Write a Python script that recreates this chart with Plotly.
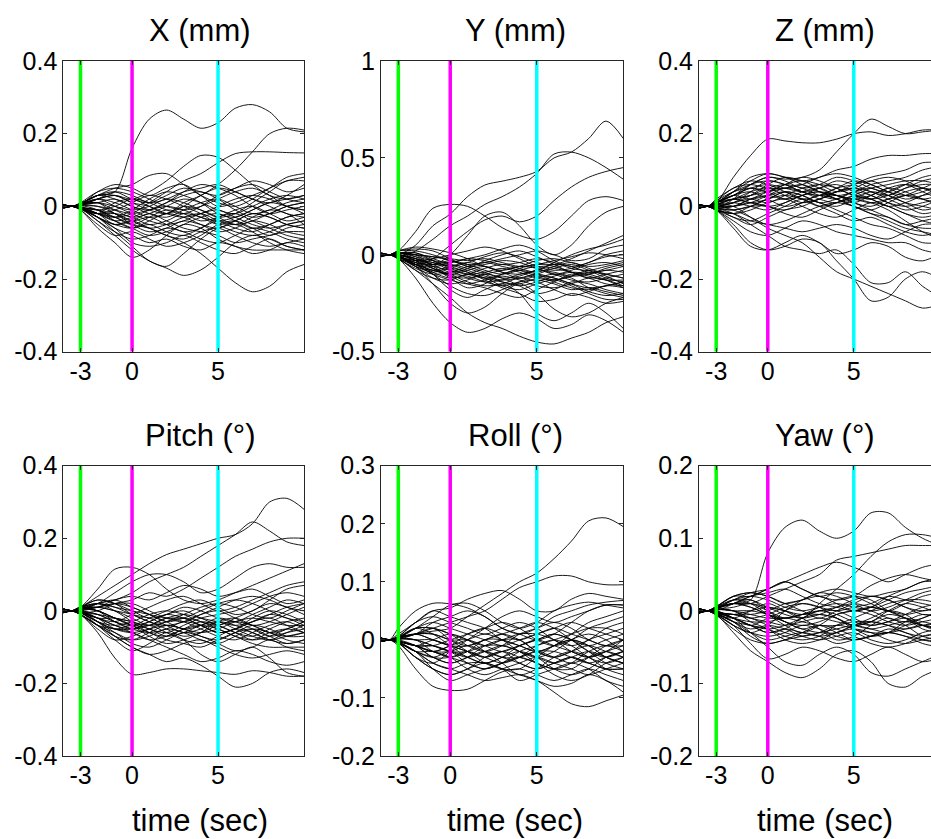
import plotly.graph_objects as go

W, H = 931, 839

# sample times (s) shared by every trial trace
T = [-4, -3.5, -3, -2, -1, 0, 1, 2, 3, 4, 5, 6, 7, 8, 9, 10]

# ---- X (mm) ----
X_MM = [
    [0.006, 0, 0.008, 0.03, 0.04, 0.16, 0.24, 0.265, 0.24, 0.215, 0.23, 0.27, 0.28, 0.26, 0.215, 0.205],
    [-0.005, 0, -0.006, -0.02, 0.01, 0.02, 0.0, -0.02, 0.01, 0.03, 0.06, 0.1, 0.15, 0.2, 0.215, 0.21],
    [0.004, 0, 0.005, 0.02, 0.03, 0.02, 0.04, 0.07, 0.11, 0.14, 0.135, 0.1, 0.06, 0.03, 0.02, 0.03],
    [-0.004, 0, -0.004, -0.01, -0.03, -0.02, 0.01, 0.04, 0.07, 0.09, 0.12, 0.145, 0.15, 0.15, 0.148, 0.147],
    [0.003, 0, 0.006, 0.03, 0.05, 0.06, 0.085, 0.09, 0.06, 0.03, 0.01, 0.0, 0.02, 0.05, 0.07, 0.08],
    [-0.003, 0, -0.005, -0.02, -0.03, -0.05, -0.06, -0.08, -0.1, -0.13, -0.17, -0.21, -0.235, -0.22, -0.18, -0.16],
    [0.002, 0, -0.006, -0.04, -0.08, -0.12, -0.15, -0.17, -0.19, -0.175, -0.14, -0.1, -0.08, -0.09, -0.11, -0.12],
    [-0.004, 0, -0.01, -0.06, -0.1, -0.14, -0.12, -0.08, -0.05, -0.06, -0.09, -0.11, -0.12, -0.12, -0.12, -0.12],
    [0.004, 0, -0.004, -0.03, -0.07, -0.11, -0.15, -0.165, -0.13, -0.09, -0.06, -0.05, -0.07, -0.1, -0.12, -0.13],
    [0.005, 0, 0.01, 0.04, 0.05, 0.04, 0.02, 0.0, -0.01, 0.0, 0.02, 0.04, 0.05, 0.03, 0.0, -0.01],
    [-0.005, 0, -0.008, -0.03, -0.05, -0.06, -0.04, -0.02, -0.03, -0.05, -0.07, -0.06, -0.04, -0.05, -0.07, -0.08],
    [0.003, 0, 0.004, 0.01, 0.02, 0.0, -0.02, -0.03, -0.01, 0.01, 0.02, 0.0, -0.02, -0.01, 0.01, 0.02],
    [-0.003, 0, -0.002, -0.02, -0.04, -0.03, -0.01, 0.01, 0.03, 0.04, 0.02, -0.01, -0.03, -0.02, 0.0, 0.01],
    [0.004, 0, 0.006, 0.02, 0.0, -0.02, -0.04, -0.05, -0.04, -0.02, -0.01, -0.03, -0.05, -0.06, -0.05, -0.04],
    [-0.004, 0, -0.006, -0.04, -0.07, -0.09, -0.08, -0.06, -0.07, -0.09, -0.1, -0.08, -0.06, -0.07, -0.09, -0.1],
    [0.002, 0, 0.008, 0.03, 0.04, 0.02, 0.01, 0.03, 0.05, 0.04, 0.03, 0.05, 0.07, 0.06, 0.04, 0.05],
    [-0.002, 0, -0.004, -0.01, -0.02, -0.04, -0.06, -0.05, -0.03, -0.02, -0.04, -0.06, -0.07, -0.05, -0.03, -0.02],
    [0.005, 0, 0.005, 0.01, -0.01, -0.03, -0.02, 0.0, 0.02, 0.01, -0.01, -0.02, 0.0, 0.02, 0.03, 0.02],
    [-0.005, 0, -0.01, -0.05, -0.08, -0.07, -0.09, -0.11, -0.1, -0.08, -0.05, -0.04, -0.06, -0.08, -0.06, -0.05],
    [0.003, 0, 0.004, 0.0, -0.02, -0.05, -0.07, -0.06, -0.04, -0.05, -0.06, -0.04, -0.02, -0.03, -0.05, -0.06],
    [-0.003, 0, 0.002, 0.02, 0.03, 0.01, -0.01, -0.02, 0.0, 0.03, 0.05, 0.04, 0.02, 0.01, 0.03, 0.06],
    [0.004, 0, -0.003, -0.02, -0.03, -0.01, 0.02, 0.04, 0.03, 0.01, -0.02, -0.03, -0.01, 0.01, 0.0, -0.02],
    [-0.004, 0, -0.005, -0.03, -0.06, -0.08, -0.1, -0.09, -0.11, -0.12, -0.1, -0.11, -0.13, -0.12, -0.1, -0.11],
    [0.002, 0, 0.003, 0.01, 0.0, -0.01, 0.0, 0.02, 0.01, -0.01, -0.03, -0.02, 0.01, 0.04, 0.07, 0.07],
    [-0.002, 0, -0.003, -0.01, -0.03, -0.05, -0.03, -0.01, -0.02, -0.04, -0.03, -0.01, 0.0, -0.02, -0.04, -0.03],
    [0.005, 0, 0.007, 0.03, 0.02, 0.0, -0.01, 0.01, 0.04, 0.06, 0.05, 0.03, 0.0, -0.02, -0.01, 0.0],
    [-0.005, 0, -0.007, -0.02, -0.01, 0.01, 0.03, 0.02, 0.0, -0.02, -0.05, -0.07, -0.08, -0.07, -0.05, -0.04],
    [0.003, 0, 0.002, -0.01, -0.04, -0.06, -0.05, -0.07, -0.08, -0.06, -0.04, -0.05, -0.03, -0.01, -0.02, -0.05],
    [-0.003, 0, 0.005, 0.04, 0.06, 0.05, 0.03, 0.05, 0.06, 0.03, 0.0, 0.01, 0.03, 0.05, 0.08, 0.09],
    [0.004, 0, -0.002, -0.02, -0.05, -0.04, -0.02, -0.04, -0.06, -0.07, -0.08, -0.1, -0.09, -0.08, -0.07, -0.07],
    [0.004, 0, 0.006, 0.01, -0.02, -0.04, -0.03, -0.05, -0.07, -0.06, -0.03, -0.02, -0.04, -0.06, -0.08, -0.09],
    [-0.004, 0, -0.002, -0.01, 0.0, 0.02, 0.01, -0.01, -0.02, 0.0, 0.03, 0.05, 0.06, 0.04, 0.02, 0.01],
    [0.003, 0, 0.005, 0.02, 0.01, -0.01, -0.03, -0.02, 0.0, -0.01, -0.03, -0.05, -0.04, -0.02, 0.0, 0.01],
    [-0.003, 0, -0.006, -0.03, -0.05, -0.04, -0.06, -0.08, -0.09, -0.07, -0.06, -0.08, -0.1, -0.11, -0.1, -0.09],
    [0.002, 0, 0.004, 0.02, 0.04, 0.03, 0.01, 0.02, 0.04, 0.05, 0.06, 0.04, 0.02, 0.0, -0.02, -0.03],
    [-0.002, 0, -0.003, -0.02, -0.02, -0.03, -0.05, -0.04, -0.02, -0.03, -0.05, -0.04, -0.02, -0.03, -0.05, -0.06],
    [0.005, 0, 0.008, 0.03, 0.03, 0.01, 0.0, -0.02, -0.03, -0.02, 0.0, 0.02, 0.03, 0.02, 0.0, -0.01],
    [-0.005, 0, -0.004, -0.02, -0.04, -0.06, -0.08, -0.07, -0.05, -0.03, -0.02, -0.04, -0.06, -0.05, -0.03, -0.02],
    [0.003, 0, 0.002, 0.0, -0.01, -0.02, -0.01, 0.0, -0.01, -0.03, -0.04, -0.03, -0.01, 0.01, 0.02, 0.03],
    [-0.003, 0, -0.005, -0.03, -0.06, -0.1, -0.11, -0.1, -0.08, -0.1, -0.12, -0.13, -0.11, -0.09, -0.11, -0.12],
]

# ---- Y (mm) ----
Y_MM = [
    [0.01, 0, 0.02, 0.12, 0.24, 0.26, 0.25, 0.2, 0.14, 0.1, 0.08, 0.12, 0.2, 0.28, 0.3, 0.28],
    [-0.01, 0, 0.0, 0.05, 0.15, 0.21, 0.3, 0.36, 0.38, 0.4, 0.43, 0.5, 0.53, 0.6, 0.69, 0.6],
    [0.0, 0, -0.01, 0.02, 0.08, 0.15, 0.2, 0.26, 0.3, 0.35, 0.42, 0.52, 0.53, 0.5, 0.45, 0.39],
    [0.01, 0, 0.0, -0.05, -0.02, 0.05, 0.12, 0.18, 0.2, 0.17, 0.2, 0.28, 0.35, 0.4, 0.43, 0.45],
    [0.0, 0, 0.01, 0.0, -0.05, 0.0, 0.1, 0.2, 0.22, 0.15, 0.05, 0.0, 0.05, 0.15, 0.22, 0.25],
    [-0.01, 0, -0.02, -0.12, -0.25, -0.35, -0.4, -0.38, -0.33, -0.3, -0.33, -0.38, -0.36, -0.31, -0.34, -0.4],
    [0.0, 0, -0.02, -0.08, -0.15, -0.22, -0.3, -0.35, -0.38, -0.42, -0.45, -0.46, -0.43, -0.4, -0.35, -0.32],
    [-0.01, 0, -0.01, -0.06, -0.15, -0.25, -0.3, -0.27, -0.2, -0.15, -0.2, -0.28, -0.32, -0.3, -0.25, -0.22],
    [0.01, 0, 0.0, -0.03, -0.1, -0.18, -0.22, -0.18, -0.15, -0.2, -0.3, -0.34, -0.3, -0.25, -0.3, -0.38],
    [0.005, 0, 0.02, 0.02, 0.0, -0.03, -0.05, -0.04, -0.02, 0.0, 0.02, 0.0, -0.03, -0.02, 0.03, 0.05],
    [-0.005, 0, -0.02, -0.05, -0.08, -0.1, -0.08, -0.06, -0.09, -0.12, -0.1, -0.07, -0.05, -0.08, -0.12, -0.14],
    [0.0, 0, 0.01, -0.02, -0.05, -0.04, -0.02, 0.0, 0.03, 0.05, 0.02, -0.03, -0.06, -0.04, 0.0, 0.02],
    [0.005, 0, -0.01, -0.06, -0.12, -0.15, -0.13, -0.1, -0.12, -0.16, -0.2, -0.18, -0.14, -0.15, -0.18, -0.2],
    [-0.005, 0, 0.01, 0.01, -0.03, -0.07, -0.1, -0.12, -0.1, -0.07, -0.05, -0.06, -0.09, -0.12, -0.1, -0.08],
    [0.0, 0, -0.01, -0.04, -0.06, -0.05, -0.07, -0.1, -0.14, -0.15, -0.12, -0.1, -0.12, -0.17, -0.2, -0.22],
    [0.005, 0, 0.02, 0.03, 0.02, -0.02, -0.06, -0.05, -0.03, -0.04, -0.07, -0.1, -0.08, -0.05, -0.04, -0.06],
    [-0.005, 0, -0.02, -0.08, -0.12, -0.13, -0.1, -0.12, -0.16, -0.18, -0.15, -0.13, -0.16, -0.2, -0.23, -0.23],
    [0.0, 0, 0.0, -0.02, -0.04, -0.08, -0.12, -0.14, -0.13, -0.1, -0.08, -0.04, 0.0, 0.03, 0.05, 0.08],
    [0.005, 0, 0.01, -0.01, -0.06, -0.11, -0.15, -0.17, -0.2, -0.22, -0.18, -0.14, -0.1, -0.12, -0.15, -0.16],
    [-0.005, 0, -0.01, -0.03, -0.02, 0.0, 0.02, 0.04, 0.02, -0.02, -0.06, -0.08, -0.07, -0.04, -0.01, 0.0],
    [0.0, 0, -0.02, -0.07, -0.1, -0.09, -0.06, -0.04, -0.06, -0.08, -0.11, -0.14, -0.17, -0.18, -0.16, -0.14],
    [0.005, 0, 0.01, 0.0, -0.01, -0.03, -0.06, -0.09, -0.12, -0.11, -0.08, -0.09, -0.11, -0.1, -0.07, -0.05],
    [-0.005, 0, -0.01, -0.05, -0.1, -0.16, -0.2, -0.21, -0.18, -0.14, -0.11, -0.12, -0.15, -0.19, -0.21, -0.2],
    [0.0, 0, 0.01, 0.0, -0.03, -0.06, -0.04, -0.01, 0.01, -0.01, -0.04, -0.05, -0.02, 0.02, 0.06, 0.1],
    [0.005, 0, -0.01, -0.04, -0.09, -0.12, -0.1, -0.07, -0.05, -0.07, -0.09, -0.06, -0.04, -0.07, -0.1, -0.12],
    [-0.005, 0, 0.0, -0.03, -0.07, -0.1, -0.14, -0.16, -0.15, -0.12, -0.14, -0.18, -0.21, -0.19, -0.16, -0.17],
    [0.0, 0, 0.02, 0.04, 0.03, 0.01, -0.02, -0.06, -0.08, -0.06, -0.03, -0.02, -0.04, -0.06, -0.05, -0.03],
    [0.005, 0, -0.01, -0.06, -0.09, -0.07, -0.09, -0.13, -0.17, -0.2, -0.24, -0.23, -0.2, -0.22, -0.25, -0.24],
    [-0.005, 0, 0.0, -0.02, -0.05, -0.09, -0.07, -0.03, 0.0, 0.02, -0.01, -0.05, -0.09, -0.1, -0.08, -0.09],
    [0.0, 0, -0.01, -0.05, -0.07, -0.12, -0.17, -0.15, -0.1, -0.08, -0.1, -0.13, -0.11, -0.08, -0.11, -0.15],
    [0.005, 0, 0.0, -0.03, -0.06, -0.08, -0.1, -0.09, -0.07, -0.09, -0.12, -0.13, -0.11, -0.09, -0.1, -0.12],
    [-0.005, 0, -0.01, -0.04, -0.05, -0.03, -0.05, -0.08, -0.1, -0.08, -0.06, -0.07, -0.09, -0.11, -0.13, -0.13],
    [0.0, 0, 0.01, 0.01, -0.02, -0.05, -0.08, -0.11, -0.13, -0.12, -0.1, -0.12, -0.15, -0.17, -0.16, -0.14],
    [0.005, 0, -0.005, -0.05, -0.1, -0.13, -0.15, -0.13, -0.11, -0.13, -0.16, -0.17, -0.15, -0.12, -0.13, -0.16],
    [-0.005, 0, 0.005, 0.0, -0.01, -0.02, -0.03, -0.02, -0.04, -0.06, -0.05, -0.03, -0.01, 0.01, 0.0, -0.02],
    [0.0, 0, -0.015, -0.06, -0.08, -0.06, -0.04, -0.06, -0.09, -0.1, -0.08, -0.05, -0.06, -0.09, -0.08, -0.06],
    [0.005, 0, 0.0, -0.02, -0.07, -0.11, -0.12, -0.1, -0.08, -0.06, -0.07, -0.1, -0.13, -0.14, -0.12, -0.1],
    [-0.005, 0, -0.01, -0.03, -0.04, -0.06, -0.09, -0.12, -0.14, -0.16, -0.14, -0.11, -0.09, -0.1, -0.13, -0.17],
    [0.0, 0, 0.01, -0.01, -0.03, -0.04, -0.02, -0.03, -0.05, -0.04, -0.02, -0.04, -0.07, -0.08, -0.06, -0.04],
    [0.005, 0, -0.01, -0.05, -0.08, -0.1, -0.11, -0.14, -0.16, -0.14, -0.13, -0.15, -0.18, -0.17, -0.19, -0.21],
]

# ---- Z (mm) ----
Z_MM = [
    [0.005, 0, 0.01, 0.08, 0.14, 0.185, 0.18, 0.175, 0.175, 0.185, 0.2, 0.205, 0.195, 0.2, 0.21, 0.21],
    [0.0, 0, -0.005, 0.02, 0.06, 0.08, 0.075, 0.08, 0.1, 0.15, 0.2, 0.24, 0.22, 0.2, 0.205, 0.21],
    [0.0, 0, 0.01, 0.04, 0.07, 0.09, 0.08, 0.07, 0.08, 0.1, 0.11, 0.13, 0.14, 0.14, 0.145, 0.145],
    [0.0, 0, -0.01, -0.05, -0.1, -0.12, -0.11, -0.09, -0.1, -0.15, -0.2, -0.26, -0.25, -0.2, -0.18, -0.2],
    [0.0, 0, 0.005, 0.0, -0.03, -0.06, -0.08, -0.1, -0.14, -0.18, -0.2, -0.22, -0.24, -0.26, -0.28, -0.27],
    [0.0, 0, -0.005, -0.02, -0.05, -0.08, -0.11, -0.12, -0.13, -0.12, -0.16, -0.21, -0.21, -0.18, -0.22, -0.25],
    [0.0, 0, -0.01, -0.06, -0.11, -0.12, -0.1, -0.08, -0.1, -0.13, -0.12, -0.1, -0.11, -0.14, -0.15, -0.13],
    [0.005, 0, 0.01, 0.04, 0.06, 0.08, 0.07, 0.05, 0.06, 0.08, 0.07, 0.05, 0.04, 0.06, 0.08, 0.09],
    [-0.005, 0, -0.01, -0.02, 0.0, 0.02, 0.04, 0.03, 0.01, 0.0, 0.02, 0.04, 0.03, 0.01, -0.01, 0.0],
    [0.0, 0, 0.01, 0.03, 0.05, 0.04, 0.02, 0.03, 0.05, 0.06, 0.04, 0.02, 0.0, -0.02, -0.04, -0.05],
    [0.005, 0, 0.0, 0.01, 0.03, 0.06, 0.08, 0.07, 0.05, 0.03, 0.04, 0.06, 0.07, 0.08, 0.1, 0.11],
    [-0.005, 0, -0.005, -0.03, -0.04, -0.02, 0.0, 0.02, 0.01, -0.01, -0.03, -0.05, -0.06, -0.08, -0.1, -0.1],
    [0.0, 0, 0.01, 0.02, 0.01, 0.0, 0.01, 0.03, 0.04, 0.03, 0.01, 0.0, 0.02, 0.04, 0.05, 0.04],
    [0.005, 0, 0.02, 0.05, 0.07, 0.06, 0.04, 0.02, 0.03, 0.05, 0.06, 0.07, 0.05, 0.03, 0.02, 0.03],
    [-0.005, 0, 0.0, -0.01, -0.03, -0.05, -0.04, -0.02, 0.0, 0.01, 0.0, -0.02, -0.04, -0.06, -0.07, -0.08],
    [0.0, 0, 0.01, 0.03, 0.04, 0.02, 0.0, 0.01, 0.02, 0.04, 0.05, 0.03, 0.01, 0.0, 0.01, 0.02],
    [0.005, 0, -0.005, 0.0, 0.02, 0.04, 0.06, 0.08, 0.07, 0.05, 0.03, 0.02, 0.03, 0.05, 0.06, 0.06],
    [-0.005, 0, -0.01, -0.04, -0.07, -0.08, -0.06, -0.04, -0.05, -0.07, -0.08, -0.09, -0.1, -0.1, -0.12, -0.13],
    [0.0, 0, 0.005, 0.01, 0.0, -0.01, 0.01, 0.03, 0.04, 0.02, 0.0, -0.01, 0.01, 0.03, 0.02, 0.0],
    [0.005, 0, 0.01, 0.04, 0.08, 0.09, 0.08, 0.06, 0.04, 0.03, 0.02, 0.03, 0.05, 0.04, 0.02, 0.01],
    [-0.005, 0, 0.0, 0.0, 0.01, 0.03, 0.05, 0.04, 0.02, 0.01, 0.03, 0.05, 0.06, 0.07, 0.07, 0.06],
    [0.0, 0, -0.01, -0.02, -0.01, 0.01, 0.02, 0.0, -0.02, -0.03, -0.01, 0.01, 0.0, -0.02, -0.03, -0.02],
    [0.005, 0, 0.015, 0.05, 0.06, 0.05, 0.05, 0.06, 0.08, 0.09, 0.08, 0.06, 0.04, 0.02, 0.03, 0.04],
    [-0.005, 0, -0.01, -0.02, -0.04, -0.05, -0.06, -0.07, -0.06, -0.05, -0.06, -0.08, -0.09, -0.07, -0.05, -0.05],
    [0.0, 0, 0.005, 0.02, 0.03, 0.05, 0.06, 0.05, 0.03, 0.02, 0.04, 0.05, 0.03, 0.01, 0.0, -0.01],
    [0.005, 0, 0.0, 0.01, 0.04, 0.07, 0.06, 0.04, 0.03, 0.04, 0.06, 0.08, 0.09, 0.1, 0.12, 0.12],
    [-0.005, 0, -0.005, -0.01, 0.0, 0.0, -0.02, -0.03, -0.01, 0.01, 0.02, 0.01, -0.01, -0.04, -0.07, -0.09],
    [0.0, 0, 0.01, 0.03, 0.02, 0.03, 0.04, 0.02, 0.0, 0.01, 0.03, 0.02, 0.0, 0.01, 0.03, 0.05],
    [0.005, 0, -0.01, -0.03, -0.05, -0.03, -0.01, 0.0, 0.02, 0.03, 0.01, -0.01, -0.03, -0.05, -0.04, -0.03],
    [0.005, 0, 0.01, 0.03, 0.05, 0.06, 0.05, 0.04, 0.05, 0.07, 0.06, 0.04, 0.03, 0.05, 0.07, 0.08],
    [-0.005, 0, 0.0, 0.01, 0.02, 0.01, 0.03, 0.05, 0.06, 0.05, 0.03, 0.02, 0.04, 0.06, 0.05, 0.03],
    [0.0, 0, 0.01, 0.02, 0.04, 0.05, 0.03, 0.01, 0.02, 0.04, 0.05, 0.04, 0.02, 0.0, -0.02, -0.01],
    [0.005, 0, 0.005, 0.02, 0.03, 0.04, 0.05, 0.06, 0.04, 0.02, 0.01, 0.03, 0.05, 0.06, 0.04, 0.02],
    [-0.005, 0, -0.005, 0.0, 0.01, 0.0, -0.01, 0.01, 0.03, 0.02, 0.0, -0.02, -0.03, -0.05, -0.06, -0.06],
    [0.0, 0, 0.015, 0.04, 0.05, 0.04, 0.06, 0.07, 0.06, 0.04, 0.05, 0.07, 0.08, 0.07, 0.05, 0.04],
    [0.005, 0, 0.0, 0.0, 0.02, 0.03, 0.02, 0.04, 0.05, 0.03, 0.02, 0.01, 0.02, 0.03, 0.05, 0.07],
    [-0.005, 0, 0.005, 0.02, 0.01, 0.02, 0.04, 0.03, 0.01, 0.02, 0.04, 0.03, 0.01, -0.01, 0.0, 0.02],
    [0.0, 0, 0.01, 0.03, 0.06, 0.07, 0.06, 0.04, 0.03, 0.05, 0.07, 0.06, 0.04, 0.03, 0.04, 0.06],
    [0.005, 0, -0.005, -0.01, 0.0, 0.02, 0.03, 0.02, 0.0, -0.02, -0.04, -0.03, -0.05, -0.07, -0.08, -0.07],
]

# ---- Pitch (deg) ----
PITCH = [
    [0.0, 0, 0.01, 0.04, 0.07, 0.1, 0.13, 0.155, 0.17, 0.185, 0.2, 0.21, 0.24, 0.3, 0.31, 0.28],
    [0.0, 0, 0.0, 0.02, 0.03, 0.05, 0.08, 0.1, 0.12, 0.15, 0.18, 0.21, 0.245, 0.22, 0.19, 0.18],
    [0.0, 0, -0.005, 0.0, 0.02, 0.03, 0.05, 0.04, 0.06, 0.09, 0.12, 0.15, 0.17, 0.19, 0.2, 0.2],
    [0.0, 0, 0.01, 0.06, 0.115, 0.12, 0.1, 0.06, 0.03, 0.02, 0.03, 0.05, 0.07, 0.09, 0.11, 0.13],
    [0.0, 0, 0.005, 0.02, 0.05, 0.08, 0.1, 0.1, 0.08, 0.05, 0.06, 0.09, 0.12, 0.13, 0.12, 0.12],
    [0.0, 0, -0.01, -0.06, -0.13, -0.175, -0.17, -0.16, -0.16, -0.165, -0.17, -0.175, -0.165, -0.17, -0.18, -0.18],
    [0.0, 0, 0.0, -0.03, -0.07, -0.1, -0.12, -0.14, -0.13, -0.15, -0.18, -0.21, -0.2, -0.17, -0.16, -0.17],
    [0.0, 0, -0.005, -0.04, -0.08, -0.11, -0.09, -0.06, -0.08, -0.12, -0.14, -0.12, -0.1, -0.13, -0.17, -0.18],
    [0.005, 0, 0.01, 0.03, 0.02, 0.0, -0.02, -0.01, 0.01, 0.0, -0.02, -0.03, -0.01, 0.01, 0.03, 0.02],
    [-0.005, 0, -0.01, -0.04, -0.06, -0.08, -0.07, -0.05, -0.06, -0.08, -0.09, -0.07, -0.05, -0.06, -0.08, -0.09],
    [0.0, 0, 0.005, 0.0, -0.02, -0.03, -0.05, -0.06, -0.04, -0.02, -0.01, 0.0, 0.02, 0.04, 0.05, 0.04],
    [0.005, 0, 0.01, 0.02, 0.03, 0.01, -0.01, -0.03, -0.05, -0.04, -0.02, -0.03, -0.05, -0.07, -0.06, -0.05],
    [-0.005, 0, -0.005, -0.02, -0.04, -0.05, -0.03, -0.01, 0.0, -0.02, -0.04, -0.06, -0.07, -0.05, -0.03, -0.02],
    [0.0, 0, 0.01, 0.01, 0.0, -0.02, -0.04, -0.03, -0.01, 0.01, 0.02, 0.01, -0.01, -0.02, 0.0, 0.02],
    [0.005, 0, -0.005, -0.03, -0.06, -0.09, -0.1, -0.08, -0.06, -0.07, -0.09, -0.11, -0.1, -0.08, -0.1, -0.11],
    [-0.005, 0, 0.0, -0.01, -0.03, -0.04, -0.02, 0.0, 0.02, 0.03, 0.01, -0.01, 0.0, 0.03, 0.06, 0.07],
    [0.0, 0, 0.01, 0.03, 0.02, -0.01, -0.03, -0.05, -0.07, -0.06, -0.04, -0.03, -0.04, -0.06, -0.07, -0.06],
    [0.005, 0, 0.0, -0.02, -0.05, -0.06, -0.05, -0.04, -0.05, -0.06, -0.05, -0.03, -0.02, -0.03, -0.04, -0.04],
    [-0.005, 0, -0.01, -0.05, -0.08, -0.07, -0.05, -0.03, -0.02, -0.03, -0.05, -0.07, -0.09, -0.1, -0.1, -0.1],
    [0.0, 0, 0.005, 0.01, 0.02, 0.02, 0.0, -0.02, -0.03, -0.01, 0.01, 0.03, 0.04, 0.03, 0.01, 0.0],
    [0.005, 0, 0.01, 0.0, -0.02, -0.04, -0.06, -0.08, -0.09, -0.1, -0.08, -0.06, -0.05, -0.07, -0.09, -0.08],
    [-0.005, 0, -0.005, -0.03, -0.04, -0.03, -0.01, 0.0, -0.01, -0.03, -0.04, -0.02, 0.0, 0.02, 0.01, -0.01],
    [0.0, 0, 0.01, 0.02, 0.0, -0.03, -0.06, -0.07, -0.05, -0.03, -0.04, -0.06, -0.08, -0.07, -0.05, -0.03],
    [0.005, 0, -0.005, -0.02, -0.03, -0.01, 0.01, 0.03, 0.04, 0.02, 0.0, 0.01, 0.03, 0.05, 0.07, 0.08],
    [-0.005, 0, -0.01, -0.04, -0.07, -0.1, -0.12, -0.11, -0.09, -0.08, -0.1, -0.12, -0.13, -0.12, -0.11, -0.12],
    [0.0, 0, 0.005, 0.02, 0.01, 0.0, -0.01, -0.02, -0.02, -0.04, -0.06, -0.05, -0.03, -0.01, -0.02, -0.04],
    [0.005, 0, 0.01, 0.0, -0.03, -0.05, -0.04, -0.02, -0.03, -0.05, -0.07, -0.08, -0.06, -0.04, -0.03, -0.05],
    [-0.005, 0, -0.005, -0.01, -0.02, -0.04, -0.07, -0.09, -0.08, -0.06, -0.03, -0.02, -0.04, -0.06, -0.05, -0.03],
    [0.0, 0, 0.0, 0.01, 0.03, 0.04, 0.03, 0.05, 0.07, 0.06, 0.04, 0.05, 0.06, 0.04, 0.02, 0.03],
    [0.005, 0, -0.01, -0.04, -0.05, -0.06, -0.08, -0.1, -0.12, -0.14, -0.13, -0.11, -0.12, -0.14, -0.15, -0.14],
    [0.005, 0, 0.0, -0.01, -0.03, -0.05, -0.06, -0.05, -0.03, -0.04, -0.06, -0.05, -0.03, -0.02, -0.04, -0.06],
    [-0.005, 0, -0.005, -0.03, -0.05, -0.04, -0.05, -0.07, -0.06, -0.04, -0.03, -0.05, -0.07, -0.08, -0.06, -0.04],
    [0.0, 0, 0.005, 0.01, 0.0, -0.01, -0.03, -0.04, -0.03, -0.01, 0.0, -0.02, -0.04, -0.03, -0.01, 0.01],
    [0.005, 0, -0.01, -0.04, -0.07, -0.08, -0.06, -0.04, -0.05, -0.07, -0.08, -0.06, -0.04, -0.05, -0.07, -0.07],
    [-0.005, 0, 0.0, -0.02, -0.02, -0.03, -0.04, -0.02, -0.01, -0.02, -0.03, -0.04, -0.03, -0.01, 0.01, 0.02],
    [0.0, 0, 0.01, 0.02, 0.01, -0.01, -0.02, -0.04, -0.06, -0.05, -0.03, -0.04, -0.06, -0.08, -0.07, -0.06],
    [0.005, 0, -0.005, -0.02, -0.04, -0.06, -0.08, -0.07, -0.05, -0.04, -0.05, -0.07, -0.08, -0.06, -0.05, -0.06],
    [-0.005, 0, 0.005, 0.0, -0.02, -0.04, -0.03, -0.01, -0.02, -0.04, -0.06, -0.05, -0.02, 0.0, -0.01, -0.03],
    [0.0, 0, -0.005, -0.03, -0.05, -0.05, -0.04, -0.06, -0.08, -0.09, -0.07, -0.05, -0.06, -0.08, -0.09, -0.08],
    [0.005, 0, 0.005, 0.01, 0.02, 0.01, -0.01, -0.03, -0.02, 0.0, 0.02, 0.03, 0.02, 0.0, -0.02, -0.03],
]

# ---- Roll (deg) ----
ROLL = [
    [0.0, 0, 0.0, 0.01, 0.015, 0.02, 0.04, 0.06, 0.08, 0.1, 0.115, 0.14, 0.17, 0.205, 0.21, 0.195],
    [0.0, 0, 0.005, 0.01, 0.02, 0.03, 0.04, 0.05, 0.07, 0.09, 0.1, 0.11, 0.11, 0.1, 0.095, 0.095],
    [0.0, 0, 0.01, 0.03, 0.05, 0.055, 0.07, 0.08, 0.085, 0.07, 0.05, 0.05, 0.07, 0.08, 0.075, 0.07],
    [0.0, 0, 0.02, 0.05, 0.063, 0.062, 0.055, 0.04, 0.02, 0.01, 0.02, 0.04, 0.05, 0.06, 0.065, 0.068],
    [0.0, 0, -0.005, -0.02, -0.04, -0.05, -0.06, -0.07, -0.065, -0.06, -0.07, -0.09, -0.11, -0.115, -0.105, -0.095],
    [0.0, 0, -0.01, -0.05, -0.08, -0.087, -0.085, -0.07, -0.055, -0.05, -0.06, -0.07, -0.06, -0.05, -0.06, -0.07],
    [0.0, 0, -0.005, -0.03, -0.05, -0.06, -0.05, -0.04, -0.05, -0.06, -0.07, -0.08, -0.075, -0.06, -0.07, -0.09],
    [0.003, 0, 0.005, 0.02, 0.03, 0.02, 0.01, 0.0, -0.01, 0.0, 0.01, 0.02, 0.01, 0.0, -0.01, 0.0],
    [-0.003, 0, -0.005, -0.02, -0.03, -0.04, -0.03, -0.02, -0.03, -0.04, -0.05, -0.04, -0.03, -0.04, -0.05, -0.05],
    [0.0, 0, 0.004, 0.01, 0.0, -0.01, -0.02, -0.03, -0.02, -0.01, 0.0, -0.01, -0.02, -0.03, -0.02, -0.01],
    [0.003, 0, 0.006, 0.03, 0.04, 0.03, 0.02, 0.01, 0.02, 0.03, 0.02, 0.0, -0.01, 0.0, 0.02, 0.03],
    [-0.003, 0, -0.003, -0.01, -0.02, -0.01, 0.0, 0.01, 0.0, -0.02, -0.03, -0.02, 0.0, 0.01, 0.0, -0.02],
    [0.0, 0, 0.002, 0.0, -0.02, -0.03, -0.05, -0.06, -0.05, -0.04, -0.03, -0.04, -0.05, -0.06, -0.05, -0.04],
    [0.003, 0, -0.002, -0.01, -0.01, 0.0, 0.01, 0.02, 0.03, 0.02, 0.0, -0.01, 0.0, 0.02, 0.03, 0.04],
    [-0.003, 0, -0.006, -0.03, -0.05, -0.06, -0.05, -0.03, -0.02, -0.03, -0.04, -0.06, -0.07, -0.06, -0.04, -0.03],
    [0.0, 0, 0.004, 0.02, 0.02, 0.01, -0.01, -0.02, -0.01, 0.01, 0.02, 0.03, 0.02, 0.0, -0.01, -0.01],
    [0.003, 0, 0.0, -0.01, -0.03, -0.04, -0.03, -0.01, 0.0, 0.0, -0.02, -0.03, -0.02, -0.01, -0.02, -0.03],
    [-0.003, 0, -0.004, -0.02, -0.02, -0.03, -0.04, -0.05, -0.04, -0.02, -0.01, 0.0, 0.01, 0.02, 0.02, 0.01],
    [0.0, 0, 0.006, 0.03, 0.05, 0.04, 0.03, 0.02, 0.0, -0.01, -0.02, -0.01, 0.01, 0.03, 0.04, 0.05],
    [0.003, 0, -0.003, -0.02, -0.04, -0.05, -0.04, -0.04, -0.05, -0.07, -0.06, -0.05, -0.04, -0.05, -0.07, -0.08],
    [-0.003, 0, 0.002, 0.01, 0.01, 0.0, -0.01, 0.0, 0.01, 0.02, 0.03, 0.02, 0.0, -0.02, -0.03, -0.02],
    [0.0, 0, -0.002, -0.01, -0.02, -0.02, -0.01, -0.02, -0.03, -0.03, -0.02, -0.02, -0.03, -0.04, -0.03, -0.02],
    [0.003, 0, 0.004, 0.01, 0.02, 0.0, -0.02, -0.04, -0.05, -0.05, -0.03, -0.01, 0.0, -0.01, -0.03, -0.04],
    [-0.003, 0, -0.005, -0.03, -0.04, -0.02, 0.0, 0.02, 0.04, 0.05, 0.04, 0.03, 0.04, 0.05, 0.06, 0.06],
    [0.0, 0, 0.003, 0.0, -0.01, -0.02, -0.02, -0.01, -0.01, -0.02, -0.04, -0.05, -0.05, -0.03, -0.01, 0.0],
    [0.003, 0, 0.005, 0.02, 0.01, -0.01, -0.03, -0.04, -0.03, -0.01, 0.0, 0.01, 0.0, -0.02, -0.04, -0.05],
    [-0.003, 0, -0.004, -0.02, -0.05, -0.07, -0.06, -0.05, -0.04, -0.03, -0.04, -0.05, -0.04, -0.02, -0.01, -0.02],
    [0.0, 0, 0.003, 0.01, 0.03, 0.04, 0.05, 0.04, 0.02, 0.01, 0.0, 0.01, 0.03, 0.05, 0.06, 0.06],
    [0.003, 0, -0.002, -0.01, 0.0, 0.01, 0.0, -0.02, -0.04, -0.06, -0.05, -0.03, -0.02, -0.03, -0.05, -0.06],
    [-0.003, 0, 0.003, 0.02, 0.04, 0.06, 0.063, 0.05, 0.03, 0.02, 0.03, 0.05, 0.06, 0.065, 0.06, 0.055],
    [0.003, 0, 0.002, 0.0, -0.01, -0.02, -0.03, -0.02, -0.01, -0.02, -0.03, -0.04, -0.03, -0.02, -0.03, -0.04],
    [-0.003, 0, -0.003, -0.01, -0.03, -0.03, -0.02, -0.03, -0.04, -0.03, -0.01, 0.0, -0.01, -0.03, -0.04, -0.03],
    [0.0, 0, 0.004, 0.01, 0.01, 0.0, 0.0, -0.01, -0.02, -0.01, 0.0, 0.01, 0.0, -0.01, 0.0, 0.01],
    [0.003, 0, -0.004, -0.02, -0.03, -0.02, -0.03, -0.04, -0.03, -0.02, -0.03, -0.05, -0.06, -0.05, -0.03, -0.02],
    [-0.003, 0, 0.003, 0.01, 0.0, -0.01, -0.01, 0.0, 0.01, 0.0, -0.02, -0.03, -0.02, 0.0, 0.01, 0.02],
    [0.0, 0, -0.002, -0.01, -0.01, -0.02, -0.04, -0.05, -0.04, -0.03, -0.02, -0.03, -0.04, -0.03, -0.02, -0.03],
    [0.003, 0, 0.003, 0.02, 0.02, 0.01, 0.0, -0.01, 0.0, 0.01, 0.01, 0.0, -0.02, -0.03, -0.02, 0.0],
    [-0.003, 0, -0.002, -0.01, -0.02, -0.03, -0.02, 0.0, 0.0, -0.01, -0.02, -0.01, 0.0, -0.01, -0.03, -0.04],
    [0.0, 0, 0.002, 0.0, 0.0, -0.01, -0.02, -0.03, -0.02, -0.04, -0.05, -0.04, -0.03, -0.04, -0.05, -0.05],
    [0.003, 0, -0.003, -0.01, -0.02, -0.01, 0.01, 0.02, 0.01, 0.0, 0.01, 0.02, 0.03, 0.02, 0.01, 0.0],
]

# ---- Yaw (deg) ----
YAW = [
    [0.0, 0, 0.005, 0.01, 0.015, 0.08, 0.115, 0.125, 0.11, 0.1, 0.11, 0.135, 0.135, 0.115, 0.1, 0.09],
    [0.0, 0, -0.005, -0.01, 0.0, 0.01, 0.0, -0.01, 0.01, 0.03, 0.05, 0.075, 0.095, 0.105, 0.105, 0.1],
    [0.0, 0, 0.005, 0.01, 0.01, 0.02, 0.03, 0.04, 0.05, 0.07, 0.075, 0.08, 0.085, 0.09, 0.09, 0.09],
    [0.0, 0, 0.0, 0.01, 0.02, 0.03, 0.04, 0.05, 0.06, 0.067, 0.06, 0.05, 0.04, 0.05, 0.06, 0.065],
    [0.0, 0, -0.005, -0.03, -0.055, -0.07, -0.085, -0.092, -0.08, -0.06, -0.055, -0.07, -0.1, -0.105, -0.09, -0.08],
    [0.0, 0, -0.005, -0.02, -0.045, -0.066, -0.06, -0.05, -0.055, -0.065, -0.07, -0.06, -0.05, -0.06, -0.07, -0.065],
    [0.0, 0, 0.0, -0.01, -0.03, -0.05, -0.07, -0.075, -0.06, -0.05, -0.06, -0.085, -0.09, -0.08, -0.07, -0.06],
    [0.003, 0, 0.005, 0.02, 0.025, 0.02, 0.01, 0.0, -0.01, 0.0, 0.01, 0.02, 0.015, 0.005, 0.0, 0.005],
    [-0.003, 0, -0.005, -0.02, -0.03, -0.035, -0.03, -0.02, -0.025, -0.035, -0.04, -0.035, -0.03, -0.035, -0.04, -0.045],
    [0.0, 0, 0.004, 0.01, 0.005, -0.005, -0.015, -0.02, -0.015, -0.005, 0.0, -0.005, -0.015, -0.02, -0.015, -0.01],
    [0.003, 0, 0.006, 0.02, 0.02, 0.03, 0.04, 0.03, 0.02, 0.025, 0.02, 0.01, 0.0, 0.01, 0.02, 0.025],
    [-0.003, 0, -0.003, -0.01, -0.02, -0.01, 0.0, 0.01, 0.005, -0.01, -0.02, -0.015, 0.0, 0.01, 0.005, -0.005],
    [0.0, 0, 0.002, 0.0, -0.015, -0.025, -0.04, -0.045, -0.04, -0.03, -0.025, -0.03, -0.04, -0.045, -0.04, -0.035],
    [0.003, 0, -0.002, -0.005, -0.005, 0.0, 0.01, 0.015, 0.025, 0.02, 0.01, 0.0, 0.005, 0.015, 0.025, 0.03],
    [-0.003, 0, -0.006, -0.025, -0.04, -0.045, -0.04, -0.03, -0.02, -0.025, -0.035, -0.045, -0.05, -0.045, -0.035, -0.03],
    [0.0, 0, 0.004, 0.015, 0.015, 0.005, -0.005, -0.01, -0.005, 0.005, 0.015, 0.02, 0.015, 0.005, -0.005, -0.005],
    [0.003, 0, 0.0, -0.01, -0.02, -0.03, -0.025, -0.01, 0.0, 0.0, -0.01, -0.02, -0.015, -0.01, -0.015, -0.02],
    [-0.003, 0, -0.004, -0.015, -0.02, -0.025, -0.035, -0.04, -0.035, -0.02, -0.01, 0.0, 0.01, 0.015, 0.015, 0.01],
    [0.0, 0, 0.006, 0.02, 0.025, 0.02, 0.01, 0.015, 0.02, 0.01, 0.0, 0.005, 0.015, 0.025, 0.03, 0.035],
    [0.003, 0, -0.003, -0.015, -0.03, -0.04, -0.035, -0.03, -0.035, -0.045, -0.04, -0.035, -0.03, -0.035, -0.045, -0.05],
    [-0.003, 0, 0.002, 0.005, 0.01, 0.0, -0.01, -0.005, 0.005, 0.015, 0.02, 0.015, 0.0, -0.01, -0.02, -0.015],
    [0.0, 0, -0.002, -0.01, -0.015, -0.015, -0.01, -0.015, -0.02, -0.02, -0.015, -0.015, -0.02, -0.025, -0.02, -0.015],
    [0.003, 0, 0.004, 0.01, 0.015, 0.0, -0.015, -0.025, -0.03, -0.03, -0.02, -0.01, 0.0, -0.005, -0.02, -0.025],
    [-0.003, 0, -0.005, -0.02, -0.03, -0.02, 0.0, 0.015, 0.025, 0.03, 0.025, 0.02, 0.025, 0.03, 0.04, 0.04],
    [0.0, 0, 0.003, 0.0, -0.005, -0.01, -0.01, -0.005, -0.005, -0.01, -0.025, -0.03, -0.03, -0.02, -0.01, 0.0],
    [0.003, 0, 0.005, 0.015, 0.01, -0.005, -0.02, -0.03, -0.02, -0.005, 0.0, 0.005, 0.0, -0.01, -0.025, -0.03],
    [-0.003, 0, -0.004, -0.015, -0.035, -0.045, -0.04, -0.035, -0.03, -0.02, -0.025, -0.035, -0.03, -0.015, -0.005, -0.01],
    [0.0, 0, 0.003, 0.01, 0.02, 0.025, 0.03, 0.02, 0.01, 0.005, 0.0, 0.005, 0.02, 0.03, 0.04, 0.045],
    [0.003, 0, -0.002, -0.005, 0.0, 0.005, 0.0, -0.01, -0.025, -0.04, -0.035, -0.02, -0.01, -0.02, -0.035, -0.04],
    [-0.003, 0, 0.003, 0.015, 0.025, 0.03, 0.04, 0.03, 0.02, 0.015, 0.02, 0.035, 0.045, 0.05, 0.045, 0.04],
    [0.003, 0, 0.002, 0.0, -0.01, -0.015, -0.02, -0.015, -0.01, -0.015, -0.02, -0.025, -0.02, -0.015, -0.02, -0.025],
    [-0.003, 0, -0.003, -0.01, -0.02, -0.03, -0.025, -0.03, -0.035, -0.03, -0.02, -0.015, -0.02, -0.03, -0.035, -0.03],
    [0.0, 0, 0.004, 0.01, 0.01, 0.005, 0.0, -0.005, 0.0, 0.005, 0.01, 0.005, 0.0, -0.005, 0.0, 0.005],
    [0.003, 0, -0.004, -0.015, -0.025, -0.02, -0.025, -0.035, -0.04, -0.035, -0.03, -0.04, -0.045, -0.04, -0.03, -0.025],
    [-0.003, 0, 0.003, 0.01, 0.005, -0.005, -0.01, -0.005, 0.0, -0.005, -0.015, -0.02, -0.015, -0.005, 0.005, 0.01],
    [0.0, 0, -0.002, -0.005, -0.01, -0.02, -0.03, -0.035, -0.03, -0.025, -0.02, -0.025, -0.03, -0.025, -0.02, -0.025],
    [0.003, 0, 0.003, 0.015, 0.02, 0.015, 0.005, 0.0, 0.005, 0.01, 0.005, 0.0, -0.01, -0.015, -0.01, 0.0],
    [-0.003, 0, -0.002, -0.01, -0.02, -0.025, -0.02, -0.01, -0.005, -0.01, -0.02, -0.015, -0.005, -0.01, -0.02, -0.03],
    [0.0, 0, 0.002, 0.0, 0.0, -0.005, -0.015, -0.025, -0.02, -0.03, -0.04, -0.035, -0.025, -0.03, -0.04, -0.04],
    [0.003, 0, -0.003, -0.005, -0.01, -0.005, 0.005, 0.01, 0.005, 0.0, 0.005, 0.01, 0.02, 0.015, 0.01, 0.005],
]

TITLES = ["X (mm)", "Y (mm)", "Z (mm)", "Pitch (°)", "Roll (°)", "Yaw (°)"]
SERIES = [X_MM, Y_MM, Z_MM, PITCH, ROLL, YAW]

Y_RANGES = [[-0.4, 0.4], [-0.5, 1.0], [-0.4, 0.4], [-0.4, 0.4], [-0.2, 0.3], [-0.2, 0.2]]
Y_TICKS = [
    [-0.4, -0.2, 0, 0.2, 0.4],
    [-0.5, 0, 0.5, 1],
    [-0.4, -0.2, 0, 0.2, 0.4],
    [-0.4, -0.2, 0, 0.2, 0.4],
    [-0.2, -0.1, 0, 0.1, 0.2, 0.3],
    [-0.2, -0.1, 0, 0.1, 0.2],
]
Y_TICK_TEXT = [
    ["-0.4", "-0.2", "0", "0.2", "0.4"],
    ["-0.5", "0", "0.5", "1"],
    ["-0.4", "-0.2", "0", "0.2", "0.4"],
    ["-0.4", "-0.2", "0", "0.2", "0.4"],
    ["-0.2", "-0.1", "0", "0.1", "0.2", "0.3"],
    ["-0.2", "-0.1", "0", "0.1", "0.2"],
]
X_TICKS = [-3, 0, 5]
X_TICK_TEXT = ["-3", "0", "5"]

# event markers: cue, onset, offset
EVENT_TIMES = [-3, 0, 5]
EVENT_COLORS = ["#00ff00", "#ff00ff", "#00ffff"]

# panel geometry in pixels (left, right) per column and (top, bottom) per row
COL_PX = [(63.3, 304.0), (381.0, 623.3), (699.0, 931.0)]
ROW_PX = [(61.0, 351.7), (465.7, 756.0)]
X_RANGES = [[-4, 10], [-4, 10], [-4, 9.49]]
TITLE_X_PX = [200, 515, 825]
TITLE_Y_PX = [31, 435]
XLABEL_Y_PX = 820

FONT = "Liberation Sans, Arial, Helvetica, sans-serif"
AX_COLOR = "#262626"
TICK_SIZE = 25
TITLE_SIZE = 31

fig = go.Figure()
layout = dict(
    template="none",
    width=W, height=H,
    margin=dict(l=0, r=0, t=0, b=0, pad=0, autoexpand=False),
    paper_bgcolor="white", plot_bgcolor="white",
    showlegend=False,
    font=dict(family=FONT, color="black"),
    annotations=[],
)

for i in range(6):
    row, col = divmod(i, 3)
    n = i + 1
    xa = "x" if n == 1 else f"x{n}"
    ya = "y" if n == 1 else f"y{n}"

    for trial in SERIES[i]:
        fig.add_trace(go.Scatter(
            x=T, y=trial, mode="lines",
            line=dict(color="black", width=0.9, shape="spline", smoothing=0.9),
            xaxis=xa, yaxis=ya, hoverinfo="skip",
        ))
    lo, hi = Y_RANGES[i]
    for t, c in zip(EVENT_TIMES, EVENT_COLORS):
        fig.add_trace(go.Scatter(
            x=[t, t], y=[lo, hi], mode="lines",
            line=dict(color=c, width=3.5),
            xaxis=xa, yaxis=ya, hoverinfo="skip",
        ))

    l_px, r_px = COL_PX[col]
    t_px, b_px = ROW_PX[row]
    xkey = "xaxis" if n == 1 else f"xaxis{n}"
    ykey = "yaxis" if n == 1 else f"yaxis{n}"
    layout[xkey] = dict(
        domain=[l_px / W, r_px / W], range=X_RANGES[col], anchor=ya,
        tickmode="array", tickvals=X_TICKS, ticktext=X_TICK_TEXT,
        ticks="inside", ticklen=4, tickcolor=AX_COLOR, tickwidth=1,
        showline=True, linecolor=AX_COLOR, linewidth=1, mirror="ticks",
        showgrid=False, zeroline=False, automargin=False,
        ticklabelstandoff=-3,
        tickfont=dict(size=TICK_SIZE, family=FONT, color="black"),
    )
    layout[ykey] = dict(
        domain=[1 - b_px / H, 1 - t_px / H], range=Y_RANGES[i], anchor=xa,
        tickmode="array", tickvals=Y_TICKS[i], ticktext=Y_TICK_TEXT[i],
        ticks="inside", ticklen=4, tickcolor=AX_COLOR, tickwidth=1,
        showline=True, linecolor=AX_COLOR, linewidth=1,
        mirror="ticks" if col < 2 else False,
        showgrid=False, zeroline=False, automargin=False,
        tickfont=dict(size=TICK_SIZE, family=FONT, color="black"),
    )
    layout["annotations"].append(dict(
        text=TITLES[i], xref="paper", yref="paper",
        x=TITLE_X_PX[col] / W, y=1 - TITLE_Y_PX[row] / H,
        xanchor="center", yanchor="middle", showarrow=False,
        font=dict(size=TITLE_SIZE, family=FONT, color="black"),
    ))
    if row == 1:
        layout["annotations"].append(dict(
            text="time (sec)", xref="paper", yref="paper",
            x=TITLE_X_PX[col] / W, y=1 - XLABEL_Y_PX / H,
            xanchor="center", yanchor="middle", showarrow=False,
            font=dict(size=TITLE_SIZE, family=FONT, color="black"),
        ))

fig.update_layout(**layout)
fig.write_html("out.html")
